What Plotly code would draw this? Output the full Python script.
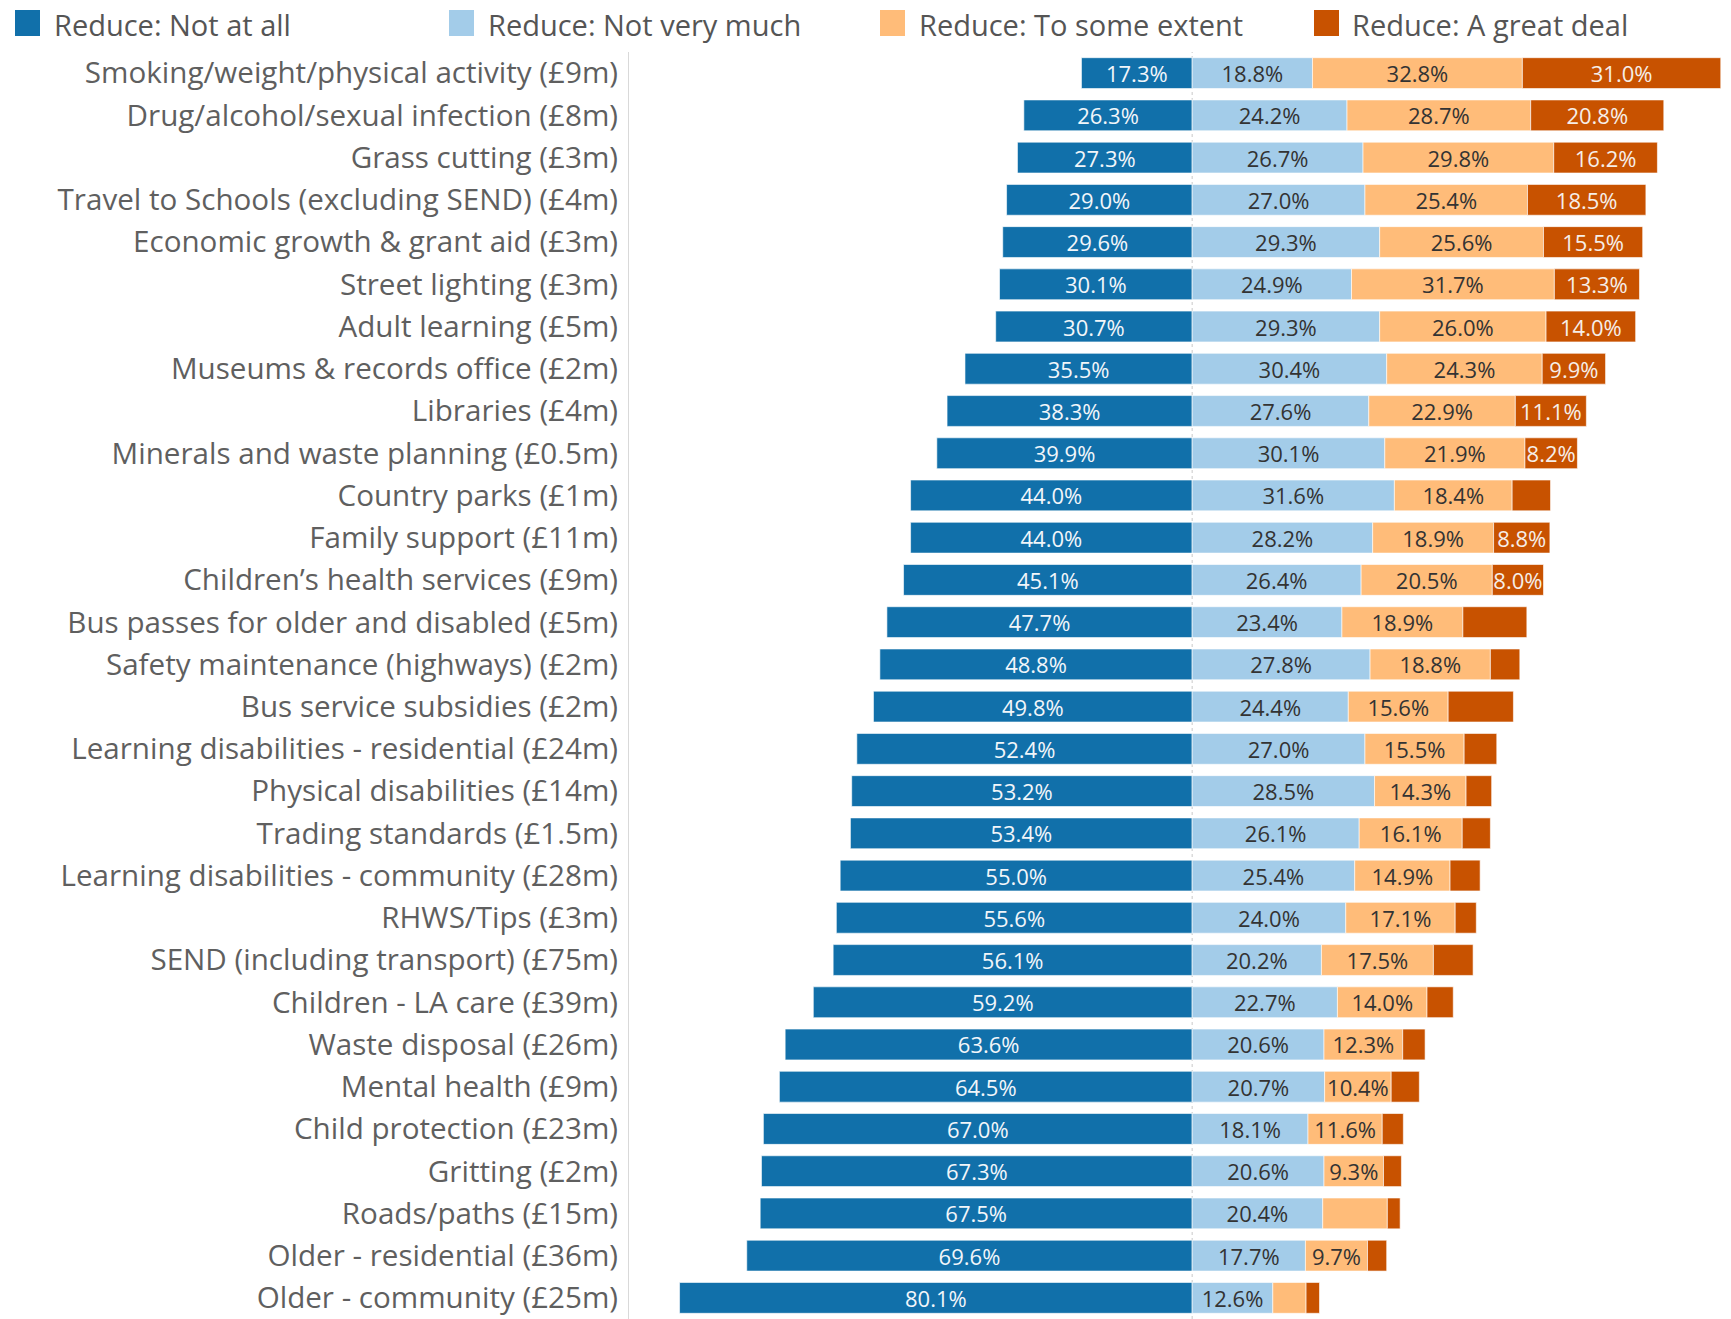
import plotly.graph_objects as go

categories = [
    "Smoking/weight/physical activity (£9m)",
    "Drug/alcohol/sexual infection (£8m)",
    "Grass cutting (£3m)",
    "Travel to Schools (excluding SEND) (£4m)",
    "Economic growth & grant aid (£3m)",
    "Street lighting (£3m)",
    "Adult learning (£5m)",
    "Museums & records office (£2m)",
    "Libraries (£4m)",
    "Minerals and waste planning (£0.5m)",
    "Country parks (£1m)",
    "Family support (£11m)",
    "Children’s health services (£9m)",
    "Bus passes for older and disabled (£5m)",
    "Safety maintenance (highways) (£2m)",
    "Bus service subsidies (£2m)",
    "Learning disabilities - residential (£24m)",
    "Physical disabilities (£14m)",
    "Trading standards (£1.5m)",
    "Learning disabilities - community (£28m)",
    "RHWS/Tips (£3m)",
    "SEND (including transport) (£75m)",
    "Children - LA care (£39m)",
    "Waste disposal (£26m)",
    "Mental health (£9m)",
    "Child protection (£23m)",
    "Gritting (£2m)",
    "Roads/paths (£15m)",
    "Older - residential (£36m)",
    "Older - community (£25m)",
]

not_at_all = [17.3, 26.3, 27.3, 29.0, 29.6, 30.1, 30.7, 35.5, 38.3, 39.9, 44.0, 44.0, 45.1, 47.7, 48.8,
              49.8, 52.4, 53.2, 53.4, 55.0, 55.6, 56.1, 59.2, 63.6, 64.5, 67.0, 67.3, 67.5, 69.6, 80.1]
not_very_much = [18.8, 24.2, 26.7, 27.0, 29.3, 24.9, 29.3, 30.4, 27.6, 30.1, 31.6, 28.2, 26.4, 23.4, 27.8,
                 24.4, 27.0, 28.5, 26.1, 25.4, 24.0, 20.2, 22.7, 20.6, 20.7, 18.1, 20.6, 20.4, 17.7, 12.6]
to_some_extent = [32.8, 28.7, 29.8, 25.4, 25.6, 31.7, 26.0, 24.3, 22.9, 21.9, 18.4, 18.9, 20.5, 18.9, 18.8,
                  15.6, 15.5, 14.3, 16.1, 14.9, 17.1, 17.5, 14.0, 12.3, 10.4, 11.6, 9.3, 10.1, 9.7, 5.2]
great_deal = [31.0, 20.8, 16.2, 18.5, 15.5, 13.3, 14.0, 9.9, 11.1, 8.2, 6.0, 8.8, 8.0, 10.0, 4.6,
              10.2, 5.1, 4.0, 4.4, 4.7, 3.3, 6.2, 4.1, 3.5, 4.4, 3.3, 2.8, 2.0, 3.0, 2.1]

# which segment labels are shown in the original
show_some_extent = [True] * 27 + [False, True, False]
show_great_deal = [True] * 10 + [False, True, True] + [False] * 17

series_names = ["Reduce: Not at all", "Reduce: Not very much", "Reduce: To some extent", "Reduce: A great deal"]
colors = ["#1170aa", "#a3cce9", "#ffbc79", "#c85200"]
text_colors = ["#f2f6fa", "#333333", "#333333", "#f6eee8"]

FONT = "Open Sans"
LABEL_SIZE = 22
CAT_SIZE = 29.6


def fmt(vals, mask=None):
    out = []
    for i, v in enumerate(vals):
        if mask is not None and not mask[i]:
            out.append("")
        else:
            out.append(f"{v:.1f}%")
    return out


fig = go.Figure()
series = [
    ([-v for v in not_at_all], fmt(not_at_all)),
    (not_very_much, fmt(not_very_much)),
    (to_some_extent, fmt(to_some_extent, show_some_extent)),
    (great_deal, fmt(great_deal, show_great_deal)),
]
for (xv, txt), name, col, tc in zip(series, series_names, colors, text_colors):
    fig.add_trace(go.Bar(
        y=categories, x=xv, orientation="h", name=name,
        marker=dict(color=col, line=dict(color="rgba(255,255,255,0.6)", width=1)),
        text=txt, textposition="inside", insidetextanchor="middle", textangle=0,
        textfont=dict(color=tc, size=LABEL_SIZE, family=FONT),
        constraintext="none", cliponaxis=False, showlegend=False,
    ))

W, H = 1731, 1319
ML, MT = 629, 52
PW, PH = W - ML, H - MT


def px_x(p):
    return (p - ML) / PW


def px_y(p):
    return 1 + (MT - p) / PH


# custom legend (squares + text) across the top
legend_sq_x = [15, 449, 880, 1314]
legend_tx_x = [52, 486, 917, 1350]
shapes = []
annotations = []
for sx, tx, name, col in zip(legend_sq_x, legend_tx_x, series_names, colors):
    shapes.append(dict(type="rect", xref="paper", yref="paper",
                       x0=px_x(sx), x1=px_x(sx + 25), y0=px_y(36), y1=px_y(10),
                       fillcolor=col, line=dict(width=0)))
    annotations.append(dict(xref="paper", yref="paper", x=px_x(tx), y=px_y(24),
                            xanchor="left", yanchor="middle", text=name, showarrow=False,
                            font=dict(family=FONT, size=29, color="#555555")))

# dotted centre line
shapes.append(dict(type="line", xref="x", yref="paper", x0=0, x1=0, y0=0, y1=1,
                   line=dict(color="#c8c8c8", width=1, dash="dot"), layer="below"))

fig.update_layout(
    width=W, height=H,
    margin=dict(l=ML, r=0, t=MT, b=0, pad=0),
    barmode="relative", bargap=0.27,
    plot_bgcolor="white", paper_bgcolor="white",
    uniformtext=dict(minsize=LABEL_SIZE, mode="show"),
    font=dict(family=FONT, color="#555555"),
    shapes=shapes, annotations=annotations,
    showlegend=False,
    xaxis=dict(range=[-88.0, 84.2], showgrid=False, zeroline=False, showticklabels=False,
               fixedrange=True),
    yaxis=dict(autorange="reversed", showgrid=False, zeroline=False,
               showline=True, linecolor="#d9d9d9", linewidth=1,
               ticks="", ticklabelstandoff=4,
               tickfont=dict(family=FONT, size=CAT_SIZE, color="#5f5f5f")),
)

fig.write_html("out.html", config={"displayModeBar": False},
               post_script="document.body.style.margin='0px';")
